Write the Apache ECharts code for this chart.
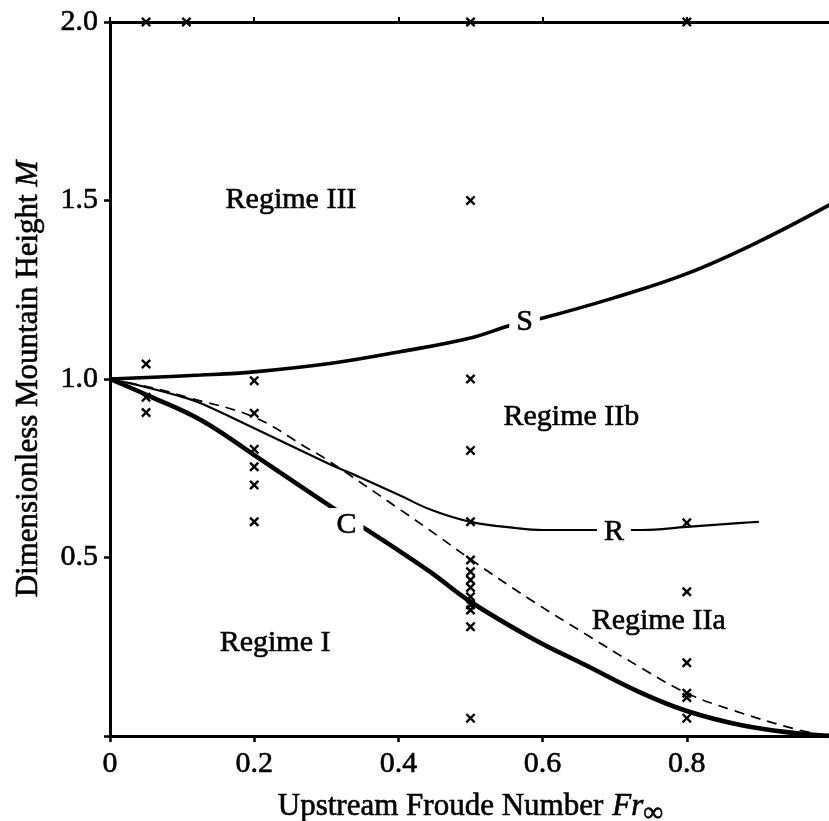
<!DOCTYPE html>
<html>
<head>
<meta charset="utf-8">
<script src="https://cdn.jsdelivr.net/npm/echarts@6/dist/echarts.min.js"></script>
<style>
html,body{margin:0;padding:0;background:#fff;}
#chart{width:829px;height:821px;}
</style>
</head>
<body>
<div id="chart"></div>
<script>
// ---- data ----
const xTickValues = [0, 0.2, 0.4, 0.6, 0.8];
const xTickLabels = ['0', '0.2', '0.4', '0.6', '0.8'];
const yTickValues = [0.5, 1.0, 1.5, 2.0];
const yTickLabels = ['0.5', '1.0', '1.5', '2.0'];

// curve S (upper thick)
const curveS = [[0,1.0],[0.126,1.011],[0.2,1.02],[0.307,1.044],[0.404,1.077],[0.5,1.115],[0.557,1.151],[0.599,1.17],[0.7,1.228],[0.8,1.295],[0.9,1.385],[1.0,1.49]];
// curve C (lower thickest)
const curveC = [[0,1.0],[0.057,0.95],[0.126,0.885],[0.2,0.787],[0.307,0.642],[0.4,0.52],[0.446,0.457],[0.5,0.376],[0.585,0.274],[0.66,0.198],[0.7375,0.12],[0.8,0.07],[0.876,0.03],[0.95,0.008],[1.0,0]];
// curve R (thin)
const curveR = [[0,1.0],[0.05,0.977],[0.1,0.95],[0.126,0.932],[0.2,0.862],[0.307,0.759],[0.335,0.735],[0.404,0.672],[0.446,0.633],[0.5,0.6],[0.565,0.582],[0.6,0.577],[0.7375,0.577],[0.8,0.586],[0.876,0.597],[0.9,0.6]];
// dashed curve
const curveDashed = [[0,1.0],[0.042,0.983],[0.072,0.969],[0.107,0.949],[0.2,0.893],[0.274,0.806],[0.297,0.779],[0.404,0.632],[0.455,0.56],[0.5,0.495],[0.58,0.386],[0.66,0.285],[0.7375,0.19],[0.8,0.12],[0.8625,0.073],[0.955,0.017],[1.0,0]];

// experiment points (x markers): Froude number and the heights tested
const pointFr = [0.05, 0.106, 0.2, 0.5, 0.8];
const pointM = [
  [2.0, 1.042, 0.949, 0.906],
  [2.0],
  [0.995, 0.904, 0.803, 0.754, 0.703, 0.6],
  [2.0, 1.5, 1.0, 0.8, 0.6, 0.493, 0.46, 0.437, 0.416, 0.39, 0.367, 0.353, 0.306, 0.05],
  [2.0, 0.597, 0.404, 0.205, 0.12, 0.108, 0.05]
];

// text annotations (data coordinates)
const regimeText = ['Regime III', 'Regime IIb', 'Regime IIa', 'Regime I'];
const regimeAt = [[0.251, 1.50], [0.64, 0.894], [0.761, 0.322], [0.229, 0.26]];
const curveText = ['S', 'C', 'R'];
const curveTextAt = [[0.575, 1.16], [0.328, 0.591], [0.699, 0.571]];

// ---- chart ----
const FONT = '"Liberation Serif", "DejaVu Serif", serif';
const points = [];
pointFr.forEach((fr, i) => pointM[i].forEach(m => points.push([fr, m])));

const crossPath = 'path://M0,1.7L1.7,0L5,3.3L8.3,0L10,1.7L6.7,5L10,8.3L8.3,10L5,6.7L1.7,10L0,8.3L3.3,5Z';

const txt = {color:'#000', fontFamily: FONT, fontSize: 30, textBorderColor:'#000', textBorderWidth:0.6, opacity: 1};

const chart = echarts.init(document.getElementById('chart'));
chart.setOption({
  animation: false,
  backgroundColor: '#fff',
  grid: {left: 110, top: 22, width: 721, height: 714, containLabel: false, outerBoundsMode: 'none'},
  xAxis: [{
    type: 'value', min: 0, max: 1, interval: 0.2, position: 'bottom',
    axisLine: {show: true, onZero: false, lineStyle: {color: '#000', width: 3}},
    axisTick: {show: true, length: 6, lineStyle: {color: '#000', width: 2.5}},
    splitLine: {show: false},
    axisLabel: Object.assign({margin: 13, formatter: v => {
      const i = xTickValues.findIndex(t => Math.abs(t - v) < 1e-6);
      return i >= 0 ? xTickLabels[i] : '';
    }}, txt),
    name: '{a|Upstream Froude Number}   {b|Fr}{c|∞}',
    nameLocation: 'middle', nameGap: 50,
    nameTextStyle: {color:'#000', fontFamily: FONT, rich: {
      a: Object.assign({}, txt, {fontSize: 31}),
      b: Object.assign({}, txt, {fontSize: 31, fontStyle: 'italic'}),
      c: Object.assign({}, txt, {fontSize: 28, padding: [14, 0, 0, 0]})
    }}
  }, {
    type: 'value', min: 0, max: 1, interval: 0.2, position: 'top',
    axisLine: {show: true, onZero: false, lineStyle: {color: '#000', width: 3}},
    axisTick: {show: true, length: 5, lineStyle: {color: '#000', width: 2}},
    axisLabel: {show: false}, splitLine: {show: false}
  }],
  yAxis: {
    type: 'value', min: 0, max: 2, interval: 0.5,
    axisLine: {show: true, onZero: false, lineStyle: {color: '#000', width: 3}},
    axisTick: {show: true, length: 6, lineStyle: {color: '#000', width: 2.5}},
    splitLine: {show: false},
    axisLabel: Object.assign({margin: 12, formatter: v => {
      const i = yTickValues.findIndex(t => Math.abs(t - v) < 1e-6);
      return i >= 0 ? yTickLabels[i] : '';
    }}, txt),
    name: '{a|Dimensionless Mountain Height }{b|M}',
    nameLocation: 'middle', nameGap: 66,
    nameTextStyle: {color:'#000', fontFamily: FONT, rich: {
      a: Object.assign({}, txt, {fontSize: 31}),
      b: Object.assign({}, txt, {fontSize: 31, fontStyle: 'italic'})
    }}
  },
  series: [
    {type: 'line', data: curveDashed, showSymbol: false, smooth: 0.4,
     lineStyle: {color: '#000', width: 1.7, type: [10, 7]}, z: 2},
    {type: 'line', data: curveR, showSymbol: false, smooth: 0.4,
     lineStyle: {color: '#000', width: 2.2}, z: 2},
    {type: 'line', data: curveS, showSymbol: false, smooth: 0.4,
     lineStyle: {color: '#000', width: 3.6}, z: 2},
    {type: 'line', data: curveC, showSymbol: false, smooth: 0.4,
     lineStyle: {color: '#000', width: 4.6}, z: 2},
    {type: 'scatter', data: points, symbol: crossPath, symbolSize: 10,
     itemStyle: {color: '#000', opacity: 1}, z: 4, clip: false},
    {type: 'scatter', symbolSize: 0, z: 5, silent: true,
     itemStyle: {opacity: 1},
     data: curveText.map((t, i) => ({value: curveTextAt[i], name: t})),
     label: Object.assign({show: true, position: 'inside', formatter: p => p.name,
       backgroundColor: '#fff', padding: [2, 7, 2, 7]}, txt)},
    {type: 'scatter', symbolSize: 0, z: 5, silent: true,
     itemStyle: {opacity: 1},
     data: regimeText.map((t, i) => ({value: regimeAt[i], name: t})),
     label: Object.assign({show: true, position: 'inside', formatter: p => p.name}, txt)}
  ]
});
</script>
</body>
</html>
